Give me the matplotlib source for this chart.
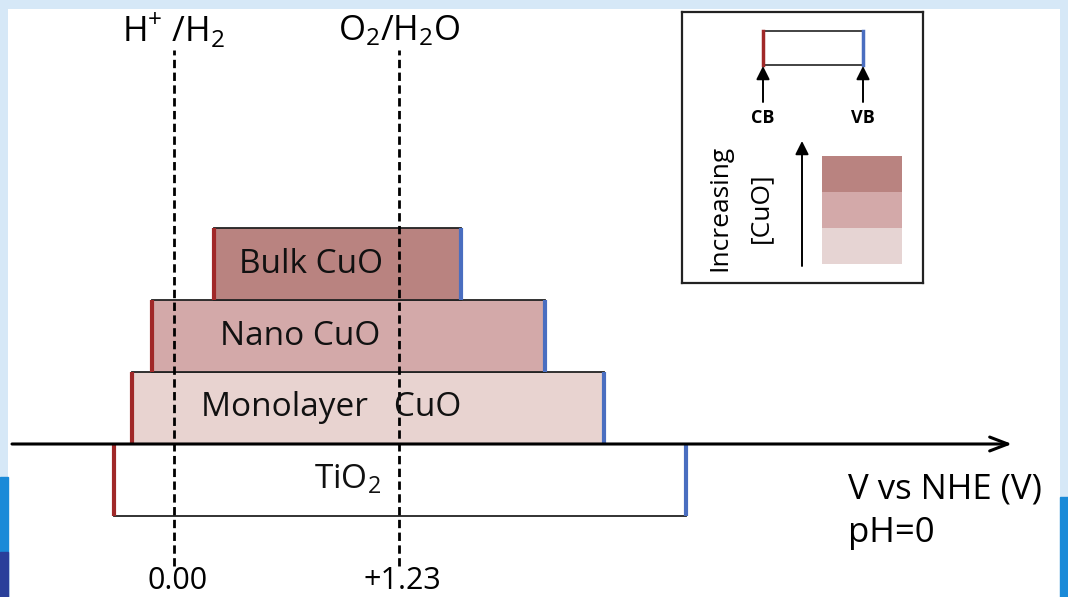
import numpy as np
import matplotlib
matplotlib.use("Agg")
import matplotlib.pyplot as plt
from matplotlib.patches import Rectangle

plt.rcParams['font.family'] = ['Open Sans', 'DejaVu Sans']
plt.rcParams['mathtext.default'] = 'regular'

# --- band edges (V vs NHE) ---
materials = ['TiO$_2$', 'Monolayer   CuO', 'Nano CuO', 'Bulk CuO']
cb_edge = [-0.33, -0.23, -0.12, 0.22]
vb_edge = [2.80, 2.35, 2.03, 1.57]
fills = ['#ffffff', '#e8d3d0', '#d3a9a9', '#b98380']
label_x = [0.95, 0.86, 0.69, 0.75]

redox_pot = [0.00, 1.23]
redox_names = ['H$^{+}$ /H$_2$', 'O$_2$/H$_2$O']
redox_ticks = ['0.00', '+1.23']

swatch_cols = ['#b98380', '#d3a9a9', '#e6d4d3']

cb_col = '#a02828'
vb_col = '#4a6ec0'

W, H = 1068, 597
fig = plt.figure(figsize=(W / 100, H / 100), dpi=100)
fig.patch.set_facecolor('#d6e8f7')

# blue strips at the edges (slide background)
fig.patches.append(Rectangle((0, 0), 8 / W, 120 / H, transform=fig.transFigure,
                             color='#1a8ad8', zorder=0))
fig.patches.append(Rectangle((0, 0), 8 / W, 45 / H, transform=fig.transFigure,
                             color='#2a3f9a', zorder=0))
fig.patches.append(Rectangle((1060 / W, 0), 8 / W, 100 / H, transform=fig.transFigure,
                             color='#1a8ad8', zorder=0))

# main axes, px 8..1060 by 9..597
px_per_v = 182.9
x0_px = 174
row_px = 72
axis_py = 444
ax = fig.add_axes([8 / W, 0, 1052 / W, 588 / H])
ax.set_facecolor('white')
ax.set_xlim((8 - x0_px) / px_per_v, (1060 - x0_px) / px_per_v)
ax.set_ylim((axis_py - 597) / row_px, (axis_py - 9) / row_px)
for s in ax.spines.values():
    s.set_visible(False)
ax.set_xticks([])
ax.set_yticks([])

# band rectangles
for i, (name, cb, vb, fc, lx) in enumerate(zip(materials, cb_edge, vb_edge, fills, label_x)):
    y0 = i - 1
    ax.add_patch(Rectangle((cb, y0), vb - cb, 1, facecolor=fc, edgecolor='#222222',
                           linewidth=1.3, zorder=2))
    ax.plot([cb, cb], [y0, y0 + 1], color=cb_col, lw=3, solid_capstyle='butt', zorder=3)
    ax.plot([vb, vb], [y0, y0 + 1], color=vb_col, lw=3, solid_capstyle='butt', zorder=3)
    ax.text(lx, y0 + 0.5, name, ha='center', va='center', fontsize=24, color='#111111',
            zorder=5)

# potential axis with open arrow
ax.annotate('', xy=((1012 - x0_px) / px_per_v, 0), xytext=((12 - x0_px) / px_per_v, 0),
            arrowprops=dict(arrowstyle='->,head_length=1.3,head_width=0.5', lw=2.2,
                            color='black', shrinkA=0, shrinkB=0), zorder=6)

# redox levels
y_top = (axis_py - 50) / row_px
y_bot = (axis_py - 566) / row_px
for xv, nm, tk in zip(redox_pot, redox_names, redox_ticks):
    ax.plot([xv, xv], [y_bot, y_top], color='black', lw=2, ls=(0, (3, 1.6)), zorder=4)
    ax.text(xv, (axis_py - 31) / row_px, nm, ha='center', va='center', fontsize=25)
    ax.text(xv + 0.02, (axis_py - 596) / row_px, tk, ha='center', va='bottom',
            fontsize=22)

ax.text((848 - x0_px) / px_per_v, (axis_py - 490) / row_px, 'V vs NHE (V)',
        ha='left', va='center', fontsize=25)
ax.text((848 - x0_px) / px_per_v, (axis_py - 533) / row_px, 'pH=0',
        ha='left', va='center', fontsize=25)

# --- inset key, in pixel units ---
ix0, ix1, iy0, iy1 = 682, 923, 12, 283
ins = fig.add_axes([ix0 / W, 1 - iy1 / H, (ix1 - ix0) / W, (iy1 - iy0) / H])
ins.set_xlim(ix0, ix1)
ins.set_ylim(iy1, iy0)
ins.set_xticks([])
ins.set_yticks([])
for s in ins.spines.values():
    s.set_linewidth(1.6)
    s.set_color('#222222')

ins.add_patch(Rectangle((763, 31), 100, 34, facecolor='white', edgecolor='#222222', lw=1.2))
ins.plot([763, 763], [31, 65], color=cb_col, lw=2.5)
ins.plot([863, 863], [31, 65], color=vb_col, lw=2.5)
for xx, lab in zip([763, 863], ['CB', 'VB']):
    ins.annotate('', xy=(xx, 66), xytext=(xx, 102),
                 arrowprops=dict(arrowstyle='-|>,head_length=0.8,head_width=0.4',
                                 lw=1.4, color='black', shrinkA=0, shrinkB=0))
    ins.text(xx, 118, lab, ha='center', va='center', fontsize=13, fontweight='bold')

ins.text(720, 208, 'Increasing', rotation=90, ha='center', va='center', fontsize=19)
ins.text(761, 208, '[CuO]', rotation=90, ha='center', va='center', fontsize=19)
ins.annotate('', xy=(802, 141), xytext=(802, 266),
             arrowprops=dict(arrowstyle='-|>,head_length=0.8,head_width=0.4',
                             lw=1.4, color='black', shrinkA=0, shrinkB=0))
sw_top = 156
sw_h = 36
for k, c in enumerate(swatch_cols):
    ins.add_patch(Rectangle((822, sw_top + k * sw_h), 80, sw_h, facecolor=c, edgecolor='none'))

fig.savefig('out.png', dpi=100, facecolor=fig.get_facecolor())
